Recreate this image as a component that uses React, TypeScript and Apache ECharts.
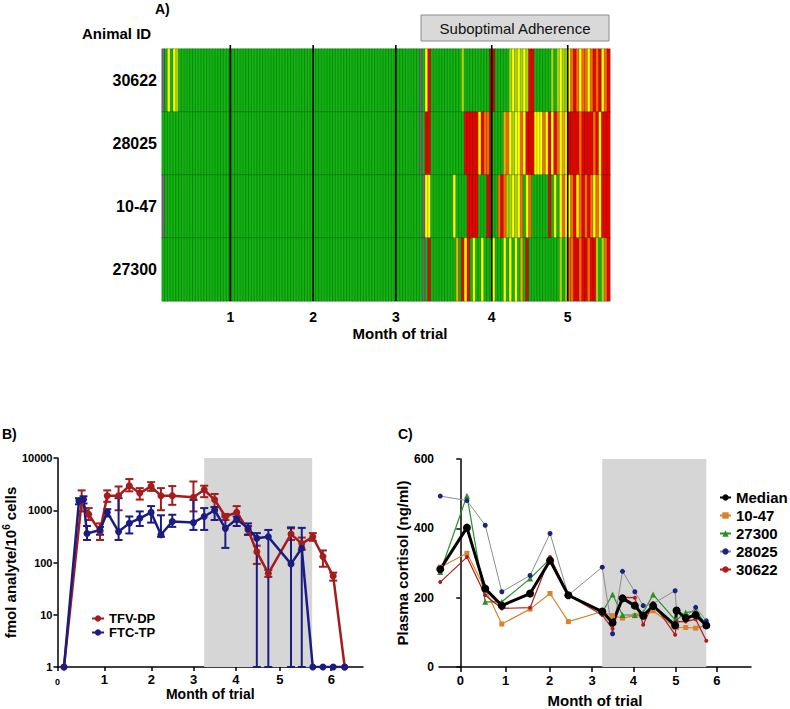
import React, { useEffect, useRef } from 'react';
import * as echarts from 'echarts';

const FONT = '"Liberation Sans", Arial, Helvetica, sans-serif';

// ---------------- Panel A: daily adherence heatmap ----------------
const ANIMAL_IDS = ['30622', '28025', '10-47', '27300']; // top to bottom
const ADHERENCE_CODES = ['G', 'L', 'Y', 'A', 'O', 'R', 'D', 'X'];
const ADHERENCE_COLORS = ['#12b312', '#a8d80c', '#ffff00', '#f2ad00', '#ff6a00', '#ee0000', '#b5140f', '#6b6b6b'];

// run-length reading of each row, left to right (code, number of days)
const RUNS_30622: [string, number][] = [
  ['X', 1], ['G', 1], ['Y', 1], ['G', 1], ['Y', 1], ['L', 1], ['G', 86], ['X', 1], ['G', 1], ['Y', 1], ['R', 1],
  ['G', 11], ['L', 1], ['G', 9], ['D', 2], ['G', 5], ['L', 1], ['Y', 1], ['L', 1], ['Y', 1], ['L', 1], ['Y', 1], ['L', 1],
  ['R', 2], ['G', 6], ['L', 1], ['G', 1], ['L', 1], ['Y', 1], ['L', 2], ['Y', 1], ['O', 1], ['R', 1], ['O', 1], ['Y', 1],
  ['O', 2], ['Y', 1], ['O', 1], ['R', 1], ['O', 1], ['R', 1], ['Y', 1], ['O', 1], ['R', 1],
];
const RUNS_28025: [string, number][] = [
  ['G', 92], ['X', 1], ['G', 1], ['R', 2], ['G', 12], ['R', 5], ['Y', 1], ['R', 1], ['O', 2], ['D', 1], ['G', 4],
  ['A', 1], ['O', 1], ['Y', 1], ['L', 1], ['Y', 2], ['O', 1], ['Y', 1], ['R', 3], ['Y', 3], ['O', 1], ['Y', 1], ['R', 1],
  ['Y', 1], ['R', 1], ['O', 1], ['Y', 1], ['A', 1], ['Y', 1], ['R', 4], ['O', 1], ['R', 4], ['O', 1], ['R', 1], ['Y', 1], ['R', 3],
];
const RUNS_1047: [string, number][] = [
  ['X', 1], ['G', 92], ['X', 1], ['Y', 2], ['G', 8], ['Y', 1], ['G', 4], ['R', 4], ['G', 3], ['R', 1], ['D', 1], ['G', 2],
  ['O', 1], ['R', 1], ['O', 1], ['L', 2], ['Y', 1], ['L', 1], ['Y', 1], ['O', 1], ['G', 1], ['Y', 1], ['O', 1], ['G', 6],
  ['R', 1], ['G', 1], ['Y', 1], ['G', 1], ['Y', 1], ['O', 1], ['Y', 2], ['O', 1], ['R', 1], ['Y', 1], ['O', 1], ['R', 1],
  ['O', 1], ['R', 1], ['O', 1], ['Y', 1], ['O', 1], ['Y', 1], ['R', 3],
];
const RUNS_27300: [string, number][] = [
  ['G', 93], ['X', 1], ['G', 1], ['R', 1], ['G', 9], ['A', 1], ['G', 1], ['R', 1], ['Y', 1], ['R', 1], ['G', 1], ['Y', 1],
  ['G', 2], ['Y', 1], ['G', 3], ['Y', 1], ['G', 3], ['Y', 1], ['G', 1], ['Y', 1], ['G', 1], ['Y', 1], ['G', 1], ['A', 1],
  ['G', 1], ['R', 1], ['G', 11], ['L', 1], ['G', 1], ['L', 1], ['O', 2], ['R', 2], ['O', 1], ['R', 2], ['O', 1], ['R', 2],
  ['L', 1], ['G', 1], ['L', 1], ['O', 1], ['R', 1],
];
const ANIMAL_RUNS = [RUNS_30622, RUNS_28025, RUNS_1047, RUNS_27300];
const N_DAYS = 160;
const MONTH_LINE_DAYS = [24.4, 54.0, 83.5, 117.75, 144.9];
const MONTH_LINE_LABELS = ['1', '2', '3', '4', '5'];

// ---------------- Panel B: intracellular drug levels ----------------
const B_TICK_DAYS = [0, 31, 62, 90, 118, 147, 181];
const B_TICK_LABELS = ['0', '1', '2', '3', '4', '5', '6'];
const B_SHADE = [97, 168.4];

const TFV_DAYS = [4.3, 16, 20.6, 28.1, 32.9, 40.4, 47.5, 54.4, 61.9, 68.4, 75.9, 89.9, 97, 103.9, 111, 118.5, 126, 131.8, 139.4, 154.4, 161.5, 168.8, 175.5, 182.3, 189.9];
const TFV_VALUES = [1, 1500, 840, 390, 1890, 1890, 2940, 2130, 2860, 1890, 1890, 1780, 2460, 1590, 760, 910, 420, 160, 62, 350, 230, 310, 130, 55, 1];
const TFV_LOW = [null, 950, 650, 270, 1450, 1000, 2300, 1600, 2350, 1000, 1270, 950, 1780, 1150, 650, 600, 340, 94, 53, 270, 175, 260, 83, 45, null];
const TFV_HIGH = [null, 2400, 1100, 560, 2400, 2850, 3950, 2650, 3450, 2650, 2900, 3550, 2950, 2050, 850, 1200, 500, 210, 72, 450, 300, 365, 170, 64, null];

const FTC_DAYS = [4.3, 14.2, 17.2, 19.5, 28.1, 32.9, 40.4, 47.5, 54.4, 61.9, 68.4, 75.9, 89.9, 97, 103.9, 111, 118.5, 126, 131.8, 139.4, 154.4, 161.5, 168.8, 175.5, 182.3, 189.9];
const FTC_VALUES = [1, 1500, 1600, 360, 420, 910, 390, 565, 700, 910, 340, 610, 580, 760, 1000, 450, 680, 450, 290, 310, 94, 187, 1, 1, 1, 1];
const FTC_LOW = [null, 1300, 1350, 270, 340, 760, 270, 360, 500, 580, 310, 480, 420, 420, 650, 190, 500, 340, 1, 1, 1, 1, null, null, null, null];
const FTC_HIGH = [null, 1700, 1850, 500, 480, 1050, 1700, 760, 950, 1200, 800, 820, 1580, 1100, 1150, 760, 760, 560, 365, 420, 470, 460, null, null, null, null];

// ---------------- Panel C: plasma cortisol ----------------
const C_TICK_DAYS = [0, 32, 63, 93, 122, 152, 181];
const C_TICK_LABELS = ['0', '1', '2', '3', '4', '5', '6'];
const C_SHADE = [100.1, 173.5];
const C_DAYS = [-14.1, 4.7, 17.6, 29.3, 49.2, 63.3, 76.2, 100.1, 107.4, 114.4, 123.1, 129, 136, 151.5, 152.5, 159, 166, 173.5];
const CORT_MEDIAN = [282, 402, 226, 177, 212, 307, 207, 160, 128, 198, 177, 148, 176, 120, 163, 141, 150, 120];
const CORT_1047 = [288, 328, 224, 124, 167, 212, 131, 160, 148, 141, 148, 148, 162, 114, 114, 114, 112, 120];
const CORT_27300 = [274, 494, 188, 188, 255, 312, 209, 158, 209, 150, 150, 157, 209, 136, 136, 157, 162, 122];
const CORT_28025 = [493, 480, 409, 217, 264, 385, 207, 288, 96, 276, 217, 177, 183, 220, 160, 143, 172, 133];
const CORT_30622 = [245, 317, 207, 169, 171, 317, 207, 150, 110, 201, 200, 122, 184, 93, 131, 131, 138, 76];

const expandRuns = (runs: [string, number][]) => runs.flatMap(([c, n]) => Array(n).fill(c));
const pairs = (xs: number[], ys: number[]) => xs.map((x, i) => [x, ys[i]]);
const errRows = (xs: number[], lo: (number | null)[], hi: (number | null)[]) =>
  xs.map((x, i) => (lo[i] == null ? null : [x, lo[i], hi[i]])).filter(Boolean);

const errorRenderer = (color: string) => (params: any, api: any) => {
  const x = api.value(0);
  const lo = api.coord([x, api.value(1)]);
  const hi = api.coord([x, api.value(2)]);
  const w = 4;
  const style = { stroke: color, lineWidth: 2 };
  return {
    type: 'group',
    children: [
      { type: 'line', shape: { x1: hi[0], y1: hi[1], x2: lo[0], y2: lo[1] }, style },
      { type: 'line', shape: { x1: hi[0] - w, y1: hi[1], x2: hi[0] + w, y2: hi[1] }, style },
      { type: 'line', shape: { x1: lo[0] - w, y1: lo[1], x2: lo[0] + w, y2: lo[1] }, style },
    ],
  };
};

const boldText = (size: number) => ({ fontFamily: FONT, fontWeight: 'bold' as const, fontSize: size, color: '#000' });

export default function App() {
  const ref = useRef<HTMLDivElement>(null);

  useEffect(() => {
    if (!ref.current) return;
    const chart = echarts.init(ref.current, null, { renderer: 'svg' });

    const heatData: number[][] = [];
    ANIMAL_RUNS.forEach((runs, r) => {
      expandRuns(runs).forEach((c, i) => {
        heatData.push([i, ANIMAL_IDS.length - 1 - r, ADHERENCE_CODES.indexOf(c)]);
      });
    });
    const dayCats = Array.from({ length: N_DAYS }, (_, i) => String(i));

    const axisLineStyle = { color: '#000', width: 1.5 };

    const option: any = {
      animation: false,
      textStyle: { fontFamily: FONT },
      grid: [
        { left: 162, top: 49, width: 448, height: 252 },
        { left: 50, top: 458, width: 313, height: 209 },
        { left: 439, top: 459, width: 312, height: 210 },
      ],
      visualMap: {
        type: 'piecewise',
        show: false,
        seriesIndex: 0,
        dimension: 2,
        pieces: ADHERENCE_COLORS.map((color, i) => ({ value: i, color })),
      },
      xAxis: [
        { type: 'category', gridIndex: 0, data: dayCats, show: false },
        {
          type: 'value', gridIndex: 0, min: 0, max: N_DAYS, position: 'bottom',
          axisLine: { show: false }, axisTick: { show: false }, splitLine: { show: false },
          axisLabel: {
            customValues: MONTH_LINE_DAYS,
            formatter: (v: number) => MONTH_LINE_LABELS[MONTH_LINE_DAYS.indexOf(v)] ?? '',
            ...boldText(14), margin: 9,
          },
        },
        {
          type: 'value', gridIndex: 1, min: 0, max: 202,
          axisLine: { show: true, lineStyle: axisLineStyle },
          axisTick: { show: true, customValues: B_TICK_DAYS, length: 4, lineStyle: axisLineStyle },
          splitLine: { show: false },
          axisLabel: {
            customValues: B_TICK_DAYS,
            formatter: (v: number) => {
              const i = B_TICK_DAYS.indexOf(v);
              return i === 0 ? '{s|0}' : (B_TICK_LABELS[i] ?? '');
            },
            rich: { s: { ...boldText(9), padding: [4, 0, 0, 0] } },
            ...boldText(13), margin: 6,
          },
          name: 'Month of trial', nameLocation: 'middle', nameGap: 20,
          nameTextStyle: boldText(14),
        },
        {
          type: 'value', gridIndex: 2, min: -15, max: 205,
          axisLine: { show: true, lineStyle: axisLineStyle },
          axisTick: { show: true, customValues: C_TICK_DAYS, length: 5, lineStyle: axisLineStyle },
          splitLine: { show: false },
          axisLabel: {
            customValues: C_TICK_DAYS,
            formatter: (v: number) => C_TICK_LABELS[C_TICK_DAYS.indexOf(v)] ?? '',
            ...boldText(13), margin: 7,
          },
          name: 'Month of trial', nameLocation: 'middle', nameGap: 26,
          nameTextStyle: boldText(15),
        },
      ],
      yAxis: [
        {
          type: 'category', gridIndex: 0, data: [...ANIMAL_IDS].reverse(),
          axisLine: { show: false }, axisTick: { show: false },
          axisLabel: { ...boldText(16), margin: 5 },
        },
        {
          type: 'log', gridIndex: 1, min: 1, max: 10000, logBase: 10,
          axisLine: { show: true, lineStyle: axisLineStyle },
          axisTick: { show: true, length: 4, lineStyle: axisLineStyle },
          minorTick: { show: false },
          splitLine: { show: false },
          axisLabel: { formatter: (v: number) => String(Math.round(v)), ...boldText(11), margin: 5 },
          name: 'fmol analyte/10{sup|6} cells', nameLocation: 'middle', nameGap: 36, nameRotate: 90,
          nameTextStyle: { ...boldText(15), rich: { sup: { ...boldText(10), padding: [0, 0, 9, 0] } } },
        },
        {
          type: 'value', gridIndex: 2, min: 0, max: 600, interval: 200,
          axisLine: { show: true, lineStyle: axisLineStyle },
          axisTick: { show: true, length: 4, lineStyle: axisLineStyle },
          splitLine: { show: false },
          axisLabel: { ...boldText(12), margin: 5 },
          name: 'Plasma cortisol (ng/ml)', nameLocation: 'middle', nameGap: 28, nameRotate: 90,
          nameTextStyle: boldText(15),
        },
      ],
      legend: [
        {
          data: ['TFV-DP', 'FTC-TP'], left: 91, top: 612, orient: 'vertical', itemGap: 1, padding: 0,
          itemWidth: 12, itemHeight: 8, textStyle: boldText(13), selectedMode: false,
        },
        {
          data: ['Median', '10-47', '27300', '28025', '30622'], left: 719, top: 490, orient: 'vertical', itemGap: 3, padding: 0,
          itemWidth: 11, itemHeight: 8, textStyle: boldText(15), selectedMode: false,
        },
      ],
      graphic: [
        { type: 'text', left: 155, top: 2, style: { text: 'A)', font: `bold 14px ${FONT}`, fill: '#000' } },
        { type: 'text', left: 82, top: 26, style: { text: 'Animal ID', font: `bold 15px ${FONT}`, fill: '#000' } },
        { type: 'rect', shape: { x: 421, y: 15, width: 188, height: 26 }, style: { fill: '#d9d9d9', stroke: '#8c8c8c', lineWidth: 1 } },
        { type: 'text', x: 515, y: 28, style: { text: 'Suboptimal Adherence', font: `15px ${FONT}`, fill: '#111', align: 'center', verticalAlign: 'middle' } },
        { type: 'text', x: 400, y: 333, style: { text: 'Month of trial', font: `bold 15px ${FONT}`, fill: '#000', align: 'center', verticalAlign: 'middle' } },
        { type: 'text', left: 2, top: 427, style: { text: 'B)', font: `bold 14px ${FONT}`, fill: '#000' } },
        { type: 'text', left: 398, top: 427, style: { text: 'C)', font: `bold 14px ${FONT}`, fill: '#000' } },
      ],
      series: [
        {
          name: 'adherence', type: 'heatmap', xAxisIndex: 0, yAxisIndex: 0, data: heatData,
          itemStyle: { borderColor: 'rgba(0,55,0,0.55)', borderWidth: 0.5 },
          emphasis: { disabled: true }, silent: true,
        },
        {
          name: 'month lines', type: 'custom', xAxisIndex: 1, yAxisIndex: 0,
          data: MONTH_LINE_DAYS.map((d) => [d]), silent: true, z: 5,
          renderItem: (params: any, api: any) => {
            const x = api.coord([api.value(0), 0])[0];
            const cs = params.coordSys;
            return {
              type: 'line',
              shape: { x1: x, y1: cs.y - 4, x2: x, y2: cs.y + cs.height },
              style: { stroke: '#000', lineWidth: 1.6 },
            };
          },
        },
        {
          name: 'TFV-DP', type: 'line', xAxisIndex: 2, yAxisIndex: 1, data: pairs(TFV_DAYS, TFV_VALUES),
          color: '#a51c1c', lineStyle: { width: 2.5 }, symbol: 'circle', symbolSize: 7, silent: true,
          markArea: {
            silent: true, itemStyle: { color: '#d6d6d6' },
            data: [[{ xAxis: B_SHADE[0], yAxis: 1 }, { xAxis: B_SHADE[1], yAxis: 10000 }]],
          },
        },
        {
          name: 'TFV-DP error', type: 'custom', xAxisIndex: 2, yAxisIndex: 1, silent: true,
          data: errRows(TFV_DAYS, TFV_LOW, TFV_HIGH), encode: { x: 0, y: [1, 2] },
          renderItem: errorRenderer('#a51c1c'),
        },
        {
          name: 'FTC-TP', type: 'line', xAxisIndex: 2, yAxisIndex: 1, data: pairs(FTC_DAYS, FTC_VALUES),
          color: '#1b1c82', lineStyle: { width: 2.5 }, symbol: 'circle', symbolSize: 7, silent: true,
        },
        {
          name: 'FTC-TP error', type: 'custom', xAxisIndex: 2, yAxisIndex: 1, silent: true,
          data: errRows(FTC_DAYS, FTC_LOW, FTC_HIGH), encode: { x: 0, y: [1, 2] },
          renderItem: errorRenderer('#1b1c82'),
        },
        {
          name: '10-47', type: 'line', xAxisIndex: 3, yAxisIndex: 2, data: pairs(C_DAYS, CORT_1047),
          color: '#d9822b', lineStyle: { width: 1.2 }, symbol: 'rect', symbolSize: 5, silent: true,
          markArea: {
            silent: true, itemStyle: { color: '#d6d6d6' },
            data: [[{ xAxis: C_SHADE[0], yAxis: 0 }, { xAxis: C_SHADE[1], yAxis: 600 }]],
          },
        },
        {
          name: '27300', type: 'line', xAxisIndex: 3, yAxisIndex: 2, data: pairs(C_DAYS, CORT_27300),
          color: '#2a8f2a', lineStyle: { width: 1.2 }, symbol: 'triangle', symbolSize: 6, silent: true,
        },
        {
          name: '28025', type: 'line', xAxisIndex: 3, yAxisIndex: 2, data: pairs(C_DAYS, CORT_28025),
          itemStyle: { color: '#1c2280' }, lineStyle: { width: 1, color: '#8c8c8c' }, symbol: 'circle', symbolSize: 5, silent: true,
        },
        {
          name: '30622', type: 'line', xAxisIndex: 3, yAxisIndex: 2, data: pairs(C_DAYS, CORT_30622),
          color: '#b01c1c', lineStyle: { width: 1.2 }, symbol: 'circle', symbolSize: 4, silent: true,
        },
        {
          name: 'Median', type: 'line', xAxisIndex: 3, yAxisIndex: 2, data: pairs(C_DAYS, CORT_MEDIAN),
          color: '#000', lineStyle: { width: 3 }, symbol: 'circle', symbolSize: 8, silent: true,
        },
      ],
    };

    chart.setOption(option);
    return () => chart.dispose();
  }, []);

  return <div ref={ref} style={{ position: 'absolute', left: 0, top: 0, width: 790, height: 709 }} />;
}
